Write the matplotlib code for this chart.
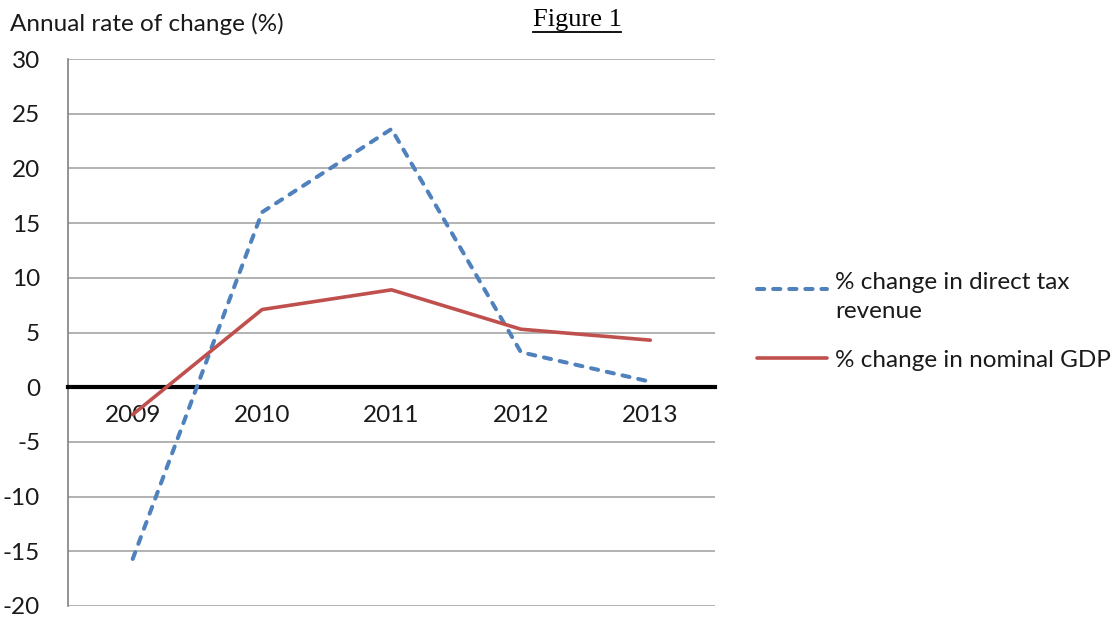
import matplotlib
matplotlib.use("Agg")
import matplotlib.pyplot as plt
from matplotlib.legend_handler import HandlerLine2D
from matplotlib.lines import Line2D

# Annual rates of change (%)
years = ["2009", "2010", "2011", "2012", "2013"]
direct_tax = [-15.7, 16.0, 23.6, 3.2, 0.5]
nominal_gdp = [-2.5, 7.1, 8.9, 5.3, 4.3]
y_ticks = [30, 25, 20, 15, 10, 5, 0, -5, -10, -15, -20]

FONT = "Lato"
FS = 17.5
TXT = "#1a1a1a"

plt.rcParams["font.family"] = [FONT, "DejaVu Sans"]
plt.rcParams["axes.unicode_minus"] = False

fig = plt.figure(figsize=(11.14, 6.18), dpi=100)
ax = fig.add_axes([68 / 1114, 12 / 618, 647 / 1114, 547 / 618])

x = list(range(len(years)))
ax.plot(x, direct_tax, color="#4F81BD", lw=2.9, linestyle=(0, (1.8, 2.2)),
        dash_capstyle="round", solid_capstyle="round", zorder=4,
        label="% change in direct tax\nrevenue")
ax.plot(x, nominal_gdp, color="#C0504D", lw=2.6, solid_capstyle="round",
        zorder=4, label="% change in nominal GDP")

for side in ("top", "right"):
    ax.spines[side].set_visible(False)
ax.spines["left"].set_color("#808080")
ax.spines["left"].set_linewidth(1.2)
ax.spines["bottom"].set_position(("data", 0))
ax.spines["bottom"].set_color("black")
ax.spines["bottom"].set_linewidth(3.0)
ax.spines["bottom"].set_zorder(3)

ax.set_xlim(-0.5, len(years) - 0.5)
ax.set_ylim(min(y_ticks), max(y_ticks))
ax.set_yticks(y_ticks)
ax.set_yticklabels([str(v) for v in y_ticks])
ax.set_xticks(x)
ax.set_xticklabels(years)

ax.yaxis.grid(True, color="#a6a6a6", lw=1.2)
ax.set_axisbelow(True)

ax.tick_params(axis="y", length=0, pad=20, labelsize=FS, labelcolor=TXT)
ax.tick_params(axis="x", length=0, pad=13, labelsize=FS, labelcolor=TXT)


class RaisedLine(HandlerLine2D):
    """Line handle lifted to sit beside the first line of a wrapped label."""

    def __init__(self, dy, **kw):
        super().__init__(**kw)
        self.dy = dy

    def create_artists(self, legend, orig_handle, xdescent, ydescent,
                       width, height, fontsize, trans):
        return super().create_artists(legend, orig_handle, xdescent,
                                      ydescent - self.dy, width, height,
                                      fontsize, trans)


handles, labels = ax.get_legend_handles_labels()
leg = ax.legend(handles, labels, loc="upper left",
                bbox_to_anchor=(757 / 1114, 1 - 272 / 618),
                bbox_transform=fig.transFigure, frameon=False,
                fontsize=FS, handlelength=2.9, handletextpad=0.3,
                labelspacing=1.15, borderaxespad=0, borderpad=0,
                handler_map={handles[0]: RaisedLine(11.5)})
for t in leg.get_texts():
    t.set_color(TXT)
    t.set_linespacing(1.45)

fig.text(10 / 1114, 1 - 24 / 618, "Annual rate of change (%)", fontsize=FS,
         color=TXT, va="center", ha="left")

title = fig.text(577 / 1114, 1 - 20 / 618, "Figure 1", fontsize=19,
                 family="Liberation Serif", color="black", ha="center",
                 va="center")
fig.canvas.draw()
bb = title.get_window_extent()
uy = (bb.y0 - 1) / fig.bbox.height
fig.add_artist(Line2D([bb.x0 / fig.bbox.width, bb.x1 / fig.bbox.width],
                      [uy, uy], transform=fig.transFigure, color="black",
                      lw=1.3))

fig.savefig("out.png", dpi=100, facecolor="white")
